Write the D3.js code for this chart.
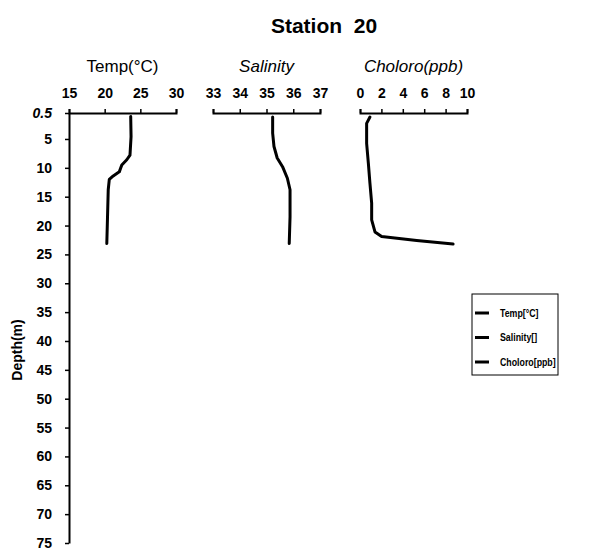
<!DOCTYPE html>
<html>
<head>
<meta charset="utf-8">
<script src="https://cdn.jsdelivr.net/npm/d3@7"></script>
<style>
  body { margin: 0; background: #fff; }
  svg text { font-family: "Liberation Sans", Arial, sans-serif; fill: #000; }
</style>
</head>
<body>
<script>
// Profile data
const depthTicks = [0.5, 5, 10, 15, 20, 25, 30, 35, 40, 45, 50, 55, 60, 65, 70, 75];

const tempDepth = [1.1, 4.6, 7.8, 8.6, 9.5, 10.7, 11.4, 12.0, 13.8, 18.5, 23.1];
const tempValues = [23.65, 23.7, 23.55, 23.1, 22.4, 22.05, 21.2, 20.65, 20.5, 20.4, 20.3];

const salDepth = [1.2, 4.0, 6.3, 8.3, 9.8, 11.8, 13.8, 18.5, 23.1];
const salValues = [35.23, 35.23, 35.28, 35.40, 35.6, 35.78, 35.88, 35.88, 35.85];

const chlDepth = [1.2, 2.3, 5.75, 9.2, 12.7, 16.1, 19.0, 21.1, 21.9, 22.6, 23.2];
const chlValues = [0.93, 0.62, 0.62, 0.78, 0.93, 1.09, 1.09, 1.4, 2.02, 5.3, 8.7];

const tempTicks = [15, 20, 25, 30];
const salTicks = [33, 34, 35, 36, 37];
const chlTicks = [0, 2, 4, 6, 8, 10];

const legendLabels = ["Temp[°C]", "Salinity[]", "Choloro[ppb]"];

const width = 589, height = 555;

const svg = d3.select("body").append("svg")
  .attr("width", width)
  .attr("height", height);

// Scales
const y = d3.scaleLinear().domain([0.5, 75]).range([113, 543]);
const xTemp = d3.scaleLinear().domain([15, 30]).range([69, 176]);
const xSal = d3.scaleLinear().domain([33, 37]).range([213, 320]);
const xChl = d3.scaleLinear().domain([0, 10]).range([360, 467]);

// Title
svg.append("text")
  .attr("x", 324)
  .attr("y", 33)
  .attr("text-anchor", "middle")
  .style("font-size", "21px")
  .style("font-weight", "bold")
  .style("white-space", "pre")
  .text("Station  20");

// Top axes
function topAxis(scale, ticks, title, italic) {
  const g = svg.append("g")
    .attr("transform", `translate(0, ${y(0.5)})`)
    .call(d3.axisTop(scale).tickValues(ticks).tickSize(4).tickSizeOuter(4).tickPadding(11)
      .tickFormat(d3.format("d")));
  g.select(".domain").attr("stroke-width", 2);
  g.selectAll(".tick line").attr("stroke-width", 1.5);
  g.selectAll(".tick text")
    .style("font-size", "14px")
    .style("font-weight", "bold")
    .style("font-family", "'Liberation Sans', Arial, sans-serif");

  const r = scale.range();
  svg.append("text")
    .attr("x", (r[0] + r[1]) / 2)
    .attr("y", 72)
    .attr("text-anchor", "middle")
    .style("font-size", "17px")
    .style("font-style", italic ? "italic" : "normal")
    .text(title);
}

topAxis(xTemp, tempTicks, "Temp(°C)", false);
topAxis(xSal, salTicks, "Salinity", true);
topAxis(xChl, chlTicks, "Choloro(ppb)", true);

// Depth axis
const yAxis = svg.append("g")
  .attr("transform", `translate(${xTemp(15)}, 0)`)
  .call(d3.axisLeft(y).tickValues(depthTicks).tickSize(4).tickSizeOuter(0).tickPadding(13)
    .tickFormat(d => d === 0.5 ? "0.5" : d));
yAxis.select(".domain").attr("stroke-width", 2);
yAxis.selectAll(".tick line").attr("stroke-width", 1.5);
yAxis.selectAll(".tick text")
  .style("font-size", "14px")
  .style("font-weight", "bold")
  .style("font-family", "'Liberation Sans', Arial, sans-serif")
  .style("font-style", d => d === 0.5 ? "italic" : "normal");

svg.append("text")
  .attr("transform", "translate(22, 350) rotate(-90)")
  .attr("text-anchor", "middle")
  .style("font-size", "14px")
  .style("font-weight", "bold")
  .text("Depth(m)");

// Profiles
function profile(xs, depths, values) {
  const pts = depths.map((d, i) => [d, values[i]]);
  svg.append("path")
    .datum(pts)
    .attr("fill", "none")
    .attr("stroke", "#000")
    .attr("stroke-width", 3)
    .attr("stroke-linejoin", "round")
    .attr("stroke-linecap", "round")
    .attr("d", d3.line().x(p => xs(p[1])).y(p => y(p[0])));
}

profile(xTemp, tempDepth, tempValues);
profile(xSal, salDepth, salValues);
profile(xChl, chlDepth, chlValues);

// Legend
const legend = svg.append("g").attr("transform", "translate(472, 294)");
legend.append("rect")
  .attr("width", 86)
  .attr("height", 81)
  .attr("fill", "#fff")
  .attr("stroke", "#000")
  .attr("stroke-width", 1);

legend.selectAll(".item")
  .data(legendLabels)
  .enter().append("g")
  .attr("transform", (d, i) => `translate(0, ${19 + i * 24.5})`)
  .each(function(d) {
    const g = d3.select(this);
    g.append("line")
      .attr("x1", 3).attr("x2", 17)
      .attr("stroke", "#000")
      .attr("stroke-width", 3);
    g.append("text")
      .attr("transform", "translate(28, 0) scale(0.8, 1)")
      .attr("dy", "0.35em")
      .style("font-size", "11px")
      .style("font-weight", "bold")
      .text(d);
  });
</script>
</body>
</html>
